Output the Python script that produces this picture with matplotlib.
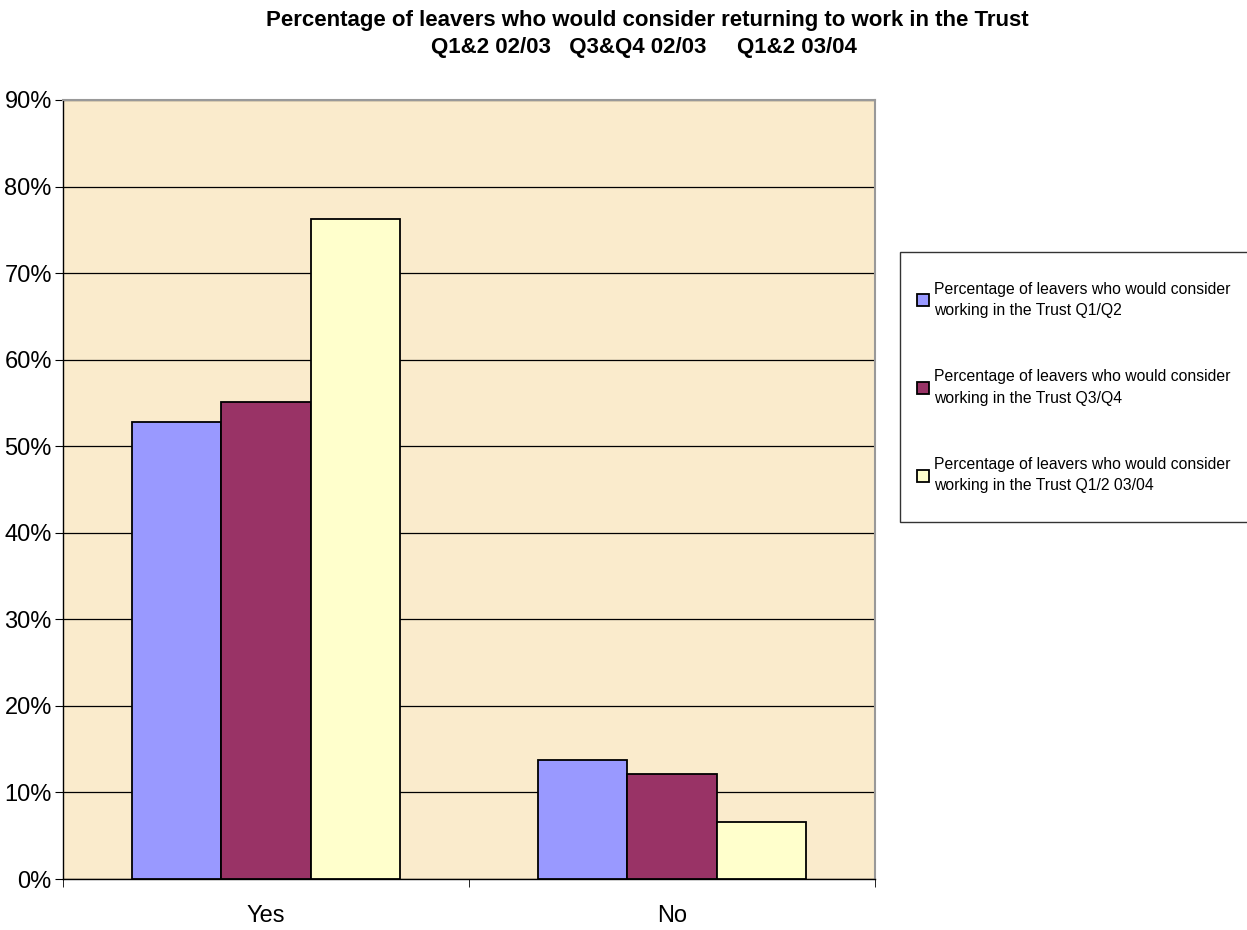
from matplotlib import pyplot as plt
from matplotlib.patches import Rectangle
import numpy as np

categories = ["Yes", "No"]
series_labels = [
    "Percentage of leavers who would consider\nworking in the Trust Q1/Q2",
    "Percentage of leavers who would consider\nworking in the Trust Q3/Q4",
    "Percentage of leavers who would consider\nworking in the Trust Q1/2 03/04",
]
q1q2_0203 = [52.8, 13.7]
q3q4_0203 = [55.1, 12.1]
q1q2_0304 = [76.3, 6.6]
colors = ["#9999FF", "#993366", "#FFFFCC"]
yticks = [0, 10, 20, 30, 40, 50, 60, 70, 80, 90]

plt.rcParams['font.family'] = ['Liberation Sans Narrow', 'Liberation Sans', 'DejaVu Sans']

fig = plt.figure(figsize=(12.47, 9.3), dpi=100)
ax = fig.add_axes([0.0505, 0.0548, 0.6512, 0.8377])
ax.set_facecolor("#FAEBCC")

x = np.arange(len(categories))
w = 0.22
for i, vals in enumerate([q1q2_0203, q3q4_0203, q1q2_0304]):
    ax.bar(x + (i - 1) * w, vals, w, color=colors[i], edgecolor="black",
           linewidth=1.3, label=series_labels[i], zorder=3)

ax.set_xlim(-0.5, 1.5)
ax.set_ylim(0, 90)
ax.set_yticks(yticks)
ax.set_yticklabels([f"{t}%" for t in yticks], fontsize=17)
ax.yaxis.grid(True, color="black", linewidth=0.9, zorder=1)
ax.set_axisbelow(True)

ax.set_xticks(x)
ax.set_xticklabels(categories, fontsize=17)
ax.set_xticks([-0.5, 0.5, 1.5], minor=True)
ax.tick_params(axis="x", which="major", length=0, pad=19)
ax.tick_params(axis="x", which="minor", length=6, direction="out")
ax.tick_params(axis="y", length=6, direction="out", pad=2)

for side in ["top", "right"]:
    ax.spines[side].set_color("#999999")
    ax.spines[side].set_linewidth(1.5)
ax.spines["left"].set_linewidth(1.0)
ax.spines["bottom"].set_linewidth(1.0)

fig.text(0.519, 0.978, "Percentage of leavers who would consider returning to work in the Trust",
         ha="center", va="center", fontsize=16, fontweight="bold")
fig.text(0.516, 0.949, "Q1&2 02/03   Q3&Q4 02/03     Q1&2 03/04",
         ha="center", va="center", fontsize=16, fontweight="bold")

# legend frame drawn by hand, runs off the right edge like the original
fig.patches.append(Rectangle((900 / 1247, 1 - 522 / 930), 0.3, 270 / 930,
                             transform=fig.transFigure, facecolor="white",
                             edgecolor="#333333", linewidth=1.0, zorder=0))

leg = fig.legend(loc="upper left", bbox_to_anchor=(912 / 1247, 1 - 277 / 930), fontsize=11.3,
                 frameon=False, labelspacing=3.3, handlelength=0.8, handleheight=0.8,
                 handletextpad=0.3, borderpad=0.3, borderaxespad=0)
for t in leg.get_texts():
    t.set_linespacing(1.5)

fig.savefig("out.png", dpi=100)
